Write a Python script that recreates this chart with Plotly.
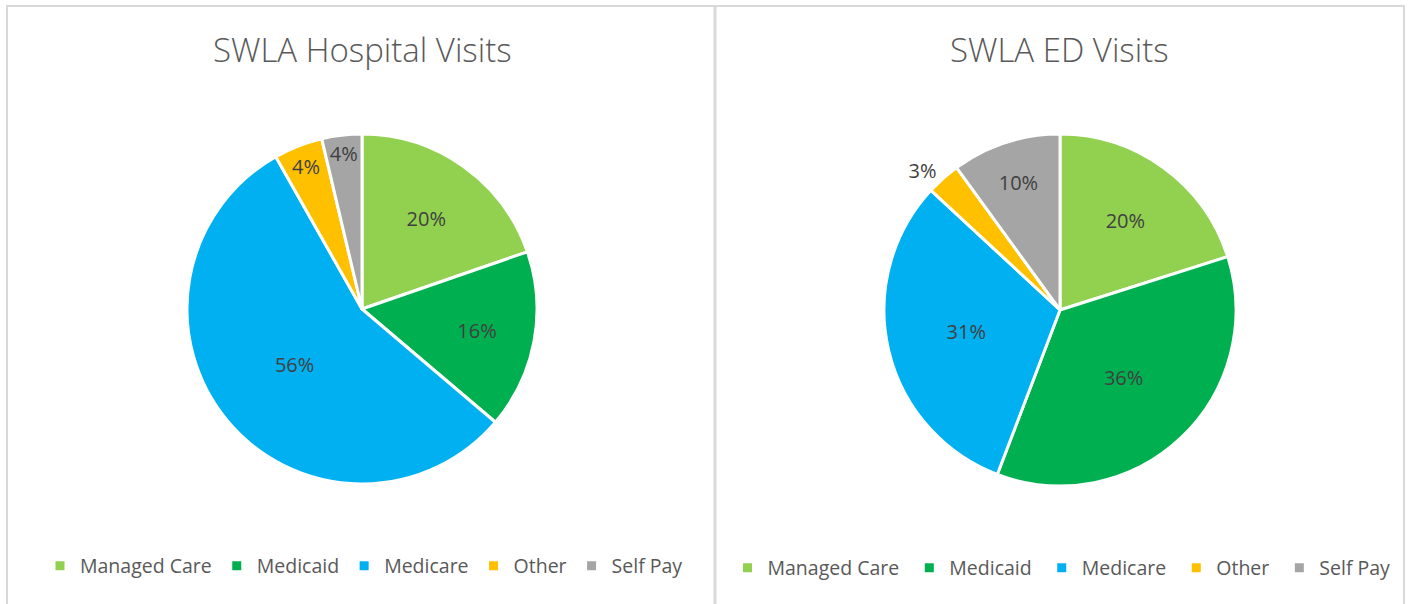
import plotly.graph_objects as go

payers = ["Managed Care", "Medicaid", "Medicare", "Other", "Self Pay"]
hospital_share = [19.7, 16.5, 55.6, 4.5, 3.7]
ed_share = [20.1, 35.7, 31.1, 3.1, 10.0]
colors = ["#92D050", "#00B050", "#00B0F0", "#FFC000", "#A5A5A5"]

W, H = 1411, 604
FONT = "Open Sans"


def px_dom(cx, cy, r):
    return dict(x=[(cx - r) / W, (cx + r) / W], y=[1 - (cy + r) / H, 1 - (cy - r) / H])


# second pie gets its own legend, so its labels must not clash with the first
ed_labels = [p + " " for p in payers]

fig = go.Figure()

fig.add_trace(go.Pie(
    labels=payers,
    values=hospital_share,
    sort=False,
    direction="clockwise",
    rotation=0,
    marker=dict(colors=colors, line=dict(color="white", width=3)),
    texttemplate="%{percent:.0%}",
    textposition="inside",
    insidetextorientation="horizontal",
    textfont=dict(size=20, color="#404040", family=FONT),
    hoverinfo="label+percent",
    domain=px_dom(362, 309, 175),
    legend="legend",
))

fig.add_trace(go.Pie(
    labels=ed_labels,
    values=ed_share,
    sort=False,
    direction="clockwise",
    rotation=0,
    marker=dict(colors=colors, line=dict(color="white", width=3)),
    texttemplate="%{percent:.0%}",
    textposition=["inside", "inside", "inside", "outside", "inside"],
    insidetextorientation="horizontal",
    textfont=dict(size=20, color="#404040", family=FONT),
    outsidetextfont=dict(size=20, color="#404040", family=FONT),
    hoverinfo="label+percent",
    domain=px_dom(1060, 310, 176),
    legend="legend2",
))

legend_style = dict(
    orientation="h",
    xanchor="center",
    yanchor="middle",
    font=dict(size=19.5, color="#595959", family=FONT),
    bgcolor="rgba(0,0,0,0)",
    itemclick=False,
    traceorder="normal",
)

title_font = dict(size=33, color="#595959", family=FONT, weight=300)

fig.update_layout(
    width=W,
    height=H,
    margin=dict(l=0, r=0, t=0, b=0),
    paper_bgcolor="white",
    font=dict(family=FONT, color="#595959"),
    uniformtext=dict(minsize=20, mode="show"),
    legend=dict(x=364 / W, y=1 - 566 / H, **legend_style),
    legend2=dict(x=1064 / W, y=1 - 568 / H, **legend_style),
    annotations=[
        dict(text="SWLA Hospital Visits", x=362 / W, y=1 - 50 / H, xref="paper", yref="paper",
             xanchor="center", yanchor="middle", showarrow=False, font=title_font),
        dict(text="SWLA ED Visits", x=1059 / W, y=1 - 50 / H, xref="paper", yref="paper",
             xanchor="center", yanchor="middle", showarrow=False, font=title_font),
    ],
    shapes=[
        dict(type="rect", xref="paper", yref="paper", x0=7 / W, x1=1404 / W, y0=-0.05, y1=1 - 6 / H,
             line=dict(color="#D9D9D9", width=2)),
        dict(type="line", xref="paper", yref="paper", x0=715 / W, x1=715 / W, y0=-0.05, y1=1 - 6 / H,
             line=dict(color="#D9D9D9", width=3)),
    ],
)

fig.write_html(
    "out.html",
    config={"displayModeBar": False},
    post_script="document.body.style.margin='0';document.body.style.overflow='hidden';",
)
